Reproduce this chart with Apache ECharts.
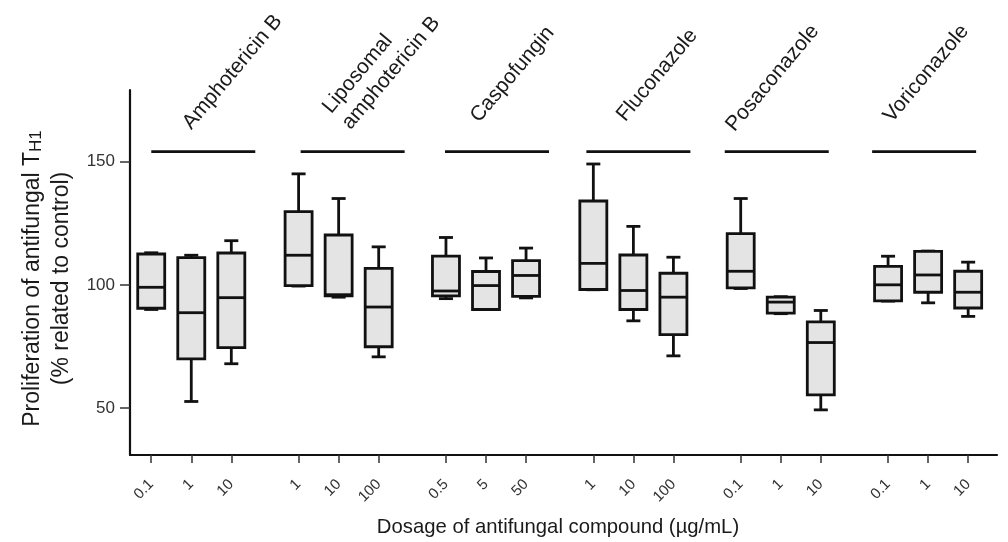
<!DOCTYPE html>
<html><head><meta charset="utf-8">
<script src="https://cdn.jsdelivr.net/npm/echarts@6/dist/echarts.min.js"></script>
<style>html,body{margin:0;padding:0;background:#fff}#c{width:1008px;height:542px}</style>
</head><body><div id="c"></div>
<script>
// ---- data ----
const groupNames = ['Amphotericin B', 'Liposomal\namphotericin B', 'Caspofungin', 'Fluconazole', 'Posaconazole', 'Voriconazole'];
const doseLabels = [['0.1','1','10'], ['1','10','100'], ['0.5','5','50'], ['1','10','100'], ['0.1','1','10'], ['0.1','1','10']];
// each box: [min, Q1, median, Q3, max]
const amphotericinB          = [[90, 90.5, 99, 112.5, 113], [52.7, 70, 88.7, 111, 112], [68, 74.5, 94.8, 112.9, 117.9]];
const liposomalAmphotericinB = [[99.5, 99.7, 112, 129.7, 145], [95, 95.5, 96, 120.2, 135], [70.8, 74.9, 91, 106.7, 115.4]];
const caspofungin            = [[94.4, 95.5, 97.5, 111.6, 119.2], [90, 90, 99.7, 105.4, 110.9], [94.7, 95.3, 103.8, 109.8, 114.9]];
const fluconazole            = [[98, 98.1, 108.7, 134, 149], [85.4, 90, 97.7, 112.1, 123.7], [71.2, 79.8, 95, 104.7, 111.2]];
const posaconazole           = [[98.5, 98.8, 105.5, 120.8, 135], [88.3, 88.5, 93, 95, 95.2], [49.3, 55.4, 76.6, 85, 89.6]];
const voriconazole           = [[93.4, 93.5, 100, 107.5, 111.6], [92.7, 97, 104, 113.6, 113.7], [87.2, 90.6, 97, 105.5, 109.2]];
const yTicks = [50, 100, 150];
const yMin = 31, yMax = 179;

// ---- layout / style constants ----
const GROUP_STRIDE = 3.68;
const HEADER_Y = 154;
const BOX_W = 27, CAP_W = 14;
const headerShift = [12, 14, 11, 5, -4, -4];
const labelOffsets = [[5, -17], [17, -17], [-2, -24], [-3, -25], [-41, -15], [-31, -24]];
const FONT = "'Liberation Sans', Arial, sans-serif";

const allGroups = [amphotericinB, liposomalAmphotericinB, caspofungin, fluconazole, posaconazole, voriconazole];
const boxData = [];
const tickPos = [];
const tickText = {};
allGroups.forEach((grp, g) => {
  grp.forEach((s, i) => {
    const x = +(g * GROUP_STRIDE + i).toFixed(2);
    boxData.push([x].concat(s));
    tickPos.push(x);
    tickText[x.toFixed(2)] = doseLabels[g][i];
  });
});
const headerData = groupNames.map((n, g) => [g * GROUP_STRIDE + 1, HEADER_Y, g]);

const chart = echarts.init(document.getElementById('c'), null, {renderer: 'canvas'});
chart.setOption({
  animation: false,
  backgroundColor: '#fff',
  grid: {left: 130, right: 11, top: 90, bottom: 84, containLabel: false},
  xAxis: {
    type: 'value', min: -0.53, max: 5 * GROUP_STRIDE + 2.72,
    splitLine: {show: false},
    axisLine: {show: true, onZero: false, lineStyle: {color: '#111', width: 2.2}},
    axisTick: {show: true, customValues: tickPos, length: 8, lineStyle: {color: '#333', width: 1.5}},
    axisLabel: {customValues: tickPos, rotate: 45, margin: 27, fontSize: 15, color: '#333', fontFamily: FONT,
      formatter: v => tickText[(+v).toFixed(2)] || ''},
    name: 'Dosage of antifungal compound (µg/mL)', nameLocation: 'middle', nameGap: 62,
    nameTextStyle: {fontSize: 20.3, color: '#1a1a1a', fontFamily: FONT, padding: [0, 11, 0, 0]}
  },
  yAxis: {
    type: 'value', min: yMin, max: yMax,
    splitLine: {show: false},
    axisLine: {show: true, onZero: false, lineStyle: {color: '#111', width: 2.2}},
    axisTick: {show: true, customValues: yTicks, length: 10, lineStyle: {color: '#333', width: 1.5}},
    axisLabel: {customValues: yTicks, fontSize: 17, color: '#333', margin: 15, fontFamily: FONT},
    name: 'Proliferation of antifungal T{s|H1}\n(% related to control)', nameLocation: 'middle', nameRotate: 90, nameGap: 53,
    nameTextStyle: {fontSize: 23, color: '#1a1a1a', fontFamily: FONT, lineHeight: 29, align: 'center', padding: [0, 12, 0, 0],
      rich: {s: {fontSize: 17, fontFamily: FONT, color: '#1a1a1a', padding: [8, 0, 0, 0]}}}
  },
  series: [{
    type: 'custom',
    data: boxData,
    encode: {x: 0, y: [1, 2, 3, 4, 5]},
    renderItem(params, api) {
      const x = api.value(0);
      const p = v => api.coord([x, v]);
      const pMin = p(api.value(1)), pQ1 = p(api.value(2)), pMed = p(api.value(3)), pQ3 = p(api.value(4)), pMax = p(api.value(5));
      const cx = pMin[0], hw = BOX_W / 2, cw = CAP_W / 2;
      const ls = {stroke: '#111', lineWidth: 2.8, fill: null};
      return {type: 'group', children: [
        {type: 'line', shape: {x1: cx, y1: pMax[1], x2: cx, y2: pQ3[1]}, style: ls},
        {type: 'line', shape: {x1: cx, y1: pQ1[1], x2: cx, y2: pMin[1]}, style: ls},
        {type: 'line', shape: {x1: cx - cw, y1: pMax[1], x2: cx + cw, y2: pMax[1]}, style: ls},
        {type: 'line', shape: {x1: cx - cw, y1: pMin[1], x2: cx + cw, y2: pMin[1]}, style: ls},
        {type: 'rect', shape: {x: cx - hw, y: pQ3[1], width: BOX_W, height: pQ1[1] - pQ3[1]}, style: {fill: '#e4e4e4', stroke: '#111', lineWidth: 2.8}},
        {type: 'line', shape: {x1: cx - hw, y1: pMed[1], x2: cx + hw, y2: pMed[1]}, style: ls}
      ]};
    }
  }, {
    type: 'custom',
    data: headerData,
    encode: {x: 0, y: 1},
    clip: false,
    renderItem(params, api) {
      const g = api.value(2);
      const c = api.coord([api.value(0), api.value(1)]);
      const cx = c[0] + headerShift[g];
      const off = labelOffsets[g];
      return {type: 'group', children: [
        {type: 'line', shape: {x1: cx - 52, y1: c[1], x2: cx + 52, y2: c[1]}, style: {stroke: '#111', lineWidth: 2.8}},
        {type: 'text', x: c[0] + off[0], y: c[1] + off[1], rotation: 50 * Math.PI / 180,
          style: {text: groupNames[g], fill: '#1a1a1a', fontSize: 21, fontFamily: FONT, align: 'left', verticalAlign: 'bottom', lineHeight: 25}}
      ]};
    }
  }]
});
</script></body></html>
